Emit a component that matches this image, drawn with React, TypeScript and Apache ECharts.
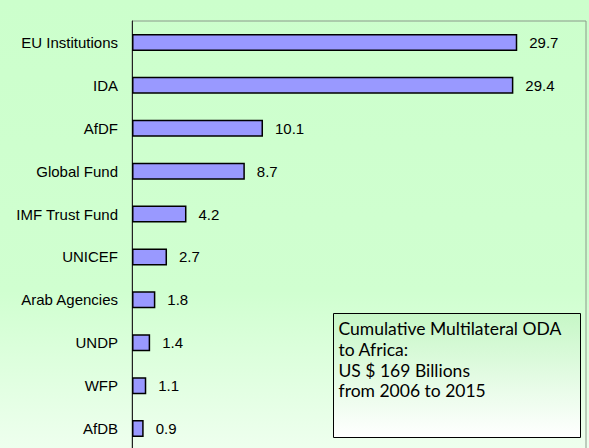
import React, { useEffect, useRef } from "react";
import * as echarts from "echarts";

const categories = [
  "EU Institutions",
  "IDA",
  "AfDF",
  "Global Fund",
  "IMF Trust Fund",
  "UNICEF",
  "Arab Agencies",
  "UNDP",
  "WFP",
  "AfDB",
];
const values = [29.7, 29.4, 10.1, 8.7, 4.2, 2.7, 1.8, 1.4, 1.1, 0.9];
const noteLines = [
  "Cumulative Multilateral ODA",
  "to Africa:",
  "US $ 169 Billions",
  "from 2006 to 2015",
];

const LABEL_FONT = '"Liberation Sans", Arial, sans-serif';

export default function App() {
  const ref = useRef<HTMLDivElement>(null);
  useEffect(() => {
    if (!ref.current) return;
    const chart = echarts.init(ref.current, null, { renderer: "svg" });
    chart.setOption({
      animation: false,
      backgroundColor: new echarts.graphic.LinearGradient(0, 0, 0, 1, [
        { offset: 0, color: "#CCFFCC" },
        { offset: 0.65, color: "#D0FFD0" },
        { offset: 1, color: "#EEFFEE" },
      ]),
      grid: {
        left: 132,
        top: 21,
        width: 454,
        height: 429,
        show: true,
        borderColor: "#8A9A8A",
        borderWidth: 1,
        backgroundColor: "transparent",
        containLabel: false,
        outerBoundsMode: "none",
      },
      xAxis: {
        type: "value",
        min: 0,
        max: 35,
        show: false,
        splitLine: { show: false },
      },
      yAxis: {
        type: "category",
        inverse: true,
        data: categories,
        axisLine: { show: true, lineStyle: { color: "#222", width: 1 } },
        axisTick: { show: false },
        axisLabel: {
          color: "#000",
          fontFamily: LABEL_FONT,
          fontSize: 15,
          margin: 14,
        },
      },
      series: [
        {
          type: "bar",
          data: values,
          barWidth: 17,
          itemStyle: { color: "#9999FF", borderColor: "#000", borderWidth: 1.5 },
          label: {
            show: true,
            position: "right",
            distance: 12,
            color: "#000",
            fontFamily: LABEL_FONT,
            fontSize: 15,
          },
        },
      ],
      graphic: [
        {
          type: "group",
          left: 333,
          top: 313,
          children: [
            {
              type: "rect",
              shape: { x: 0, y: 0, width: 247, height: 124 },
              style: {
                fill: new echarts.graphic.LinearGradient(0, 0, 0, 1, [
                  { offset: 0, color: "#C6F7C6" },
                  { offset: 1, color: "#FFFFFF" },
                ]),
                stroke: "#000",
                lineWidth: 1,
              },
            },
            {
              type: "text",
              x: 5,
              y: 5,
              style: {
                text: noteLines.join("\n"),
                fill: "#000",
                fontFamily: "Lato, sans-serif",
                fontSize: 17.5,
                lineHeight: 20.7,
              },
            },
          ],
        },
      ],
    });
    return () => chart.dispose();
  }, []);
  return (
    <div
      ref={ref}
      style={{ position: "fixed", left: 0, top: 0, width: 589, height: 448 }}
    />
  );
}
